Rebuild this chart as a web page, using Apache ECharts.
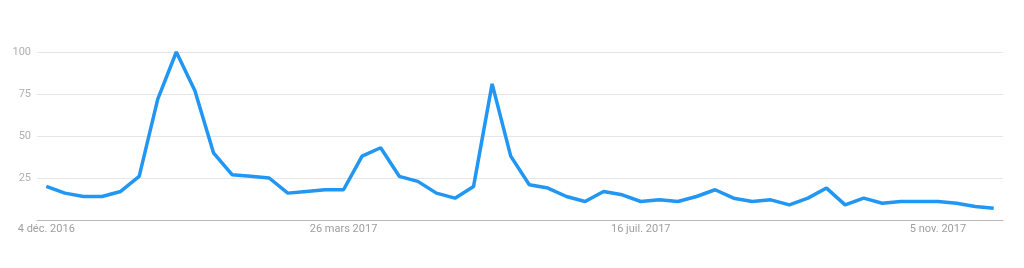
<!DOCTYPE html>
<html>
<head>
<meta charset="utf-8">
<script src="https://cdn.jsdelivr.net/npm/echarts@6/dist/echarts.min.js"></script>
<style>html,body{margin:0;padding:0;background:#fff}#c{width:1024px;height:268px}</style>
</head>
<body>
<div id="c"></div>
<script>
// Weekly categories from 4 Dec 2016 (52 weeks)
const months = ['janv.','févr.','mars','avr.','mai','juin','juil.','août','sept.','oct.','nov.','déc.'];
const categories = [];
(function(){
  const start = new Date(Date.UTC(2016, 11, 4));
  for (let i = 0; i < 52; i++) {
    const d = new Date(start.getTime() + i * 7 * 86400000);
    categories.push(d.getUTCDate() + ' ' + months[d.getUTCMonth()] + ' ' + d.getUTCFullYear());
  }
})();
const values = [20,16,14,14,17,26,72,100,77,40,27,26,25,16,17,18,18,38,43,26,23,16,13,20,81,38,21,19,14,11,17,15,11,12,11,14,18,13,11,12,9,13,19,9,13,10,11,11,11,10,8,7];
const yTicks = [0,25,50,75,100];

const chart = echarts.init(document.getElementById('c'));
chart.setOption({
  animation: false,
  grid: {left: 37, right: 21, top: 52, bottom: 48},
  xAxis: {
    type: 'category',
    data: categories,
    boundaryGap: true,
    axisLine: {lineStyle: {color: '#b8b8b8', width: 1}},
    axisTick: {show: false},
    axisLabel: {interval: 15, color: '#9e9e9e', fontFamily: 'Roboto', fontSize: 11, margin: 4}
  },
  yAxis: {
    type: 'value',
    min: yTicks[0], max: yTicks[yTicks.length-1], interval: 25,
    axisLine: {show: false},
    axisTick: {show: false},
    splitLine: {lineStyle: {color: '#e6e6e6', width: 1}},
    axisLabel: {color: '#b0b0b0', fontFamily: 'Roboto', fontSize: 11, margin: 6,
      formatter: v => v === 0 ? '' : String(v)}
  },
  series: [{
    type: 'line',
    data: values,
    showSymbol: false,
    lineStyle: {color: '#2196f3', width: 3.5},
    itemStyle: {color: '#2196f3'}
  }]
});
</script>
</body>
</html>
